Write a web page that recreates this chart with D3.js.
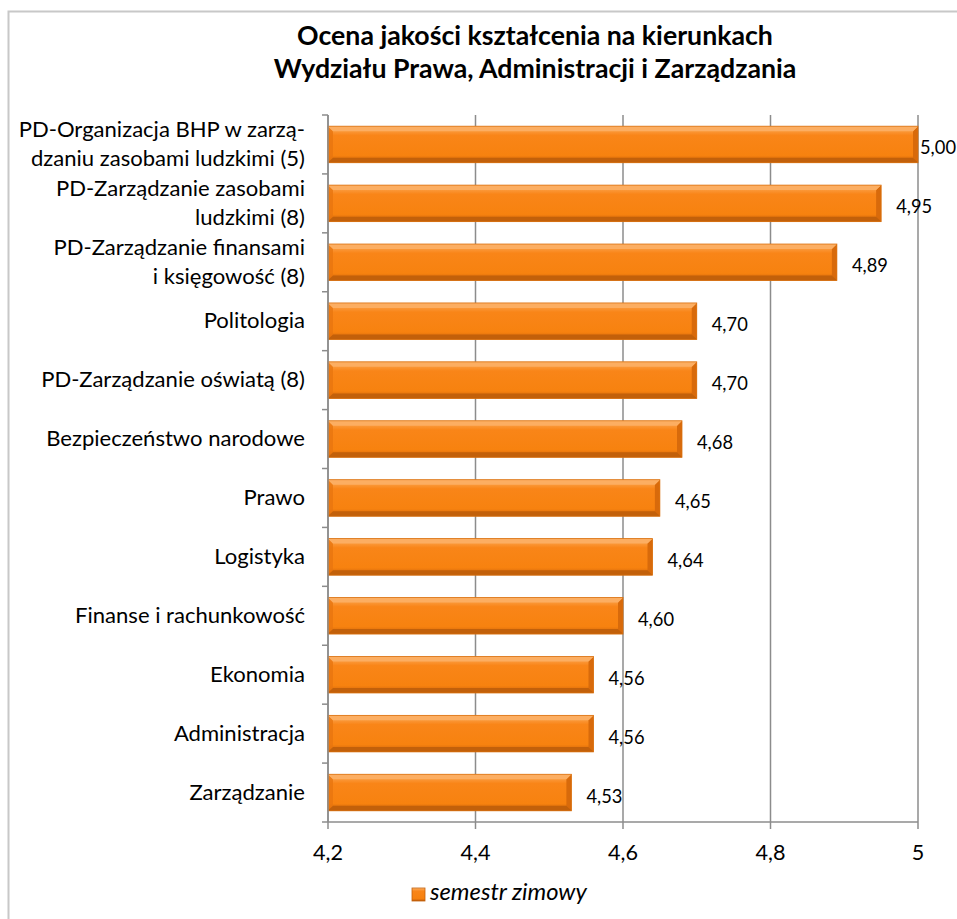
<!DOCTYPE html>
<html><head><meta charset="utf-8">
<script src="https://cdn.jsdelivr.net/npm/d3@7"></script>
<style>
html,body{margin:0;padding:0;background:#fff;}
svg{display:block;}
text{font-family:Lato,"Noto Sans",sans-serif;fill:#000;}
</style></head>
<body>
<svg id="c" width="957" height="919"></svg>
<script>
const titleLines = ["Ocena jakości kształcenia na kierunkach","Wydziału Prawa, Administracji i Zarządzania"];
const categories = [
  ["PD-Organizacja BHP w zarzą-","dzaniu zasobami ludzkimi (5)"],
  ["PD-Zarządzanie zasobami","ludzkimi (8)"],
  ["PD-Zarządzanie finansami","i księgowość (8)"],
  ["Politologia"],
  ["PD-Zarządzanie oświatą (8)"],
  ["Bezpieczeństwo narodowe"],
  ["Prawo"],
  ["Logistyka"],
  ["Finanse i rachunkowość"],
  ["Ekonomia"],
  ["Administracja"],
  ["Zarządzanie"]
];
const values = [5.00,4.95,4.89,4.70,4.70,4.68,4.65,4.64,4.60,4.56,4.56,4.53];
const xTicks = [4.2,4.4,4.6,4.8,5];
const seriesName = "semestr zimowy";

const svg = d3.select("#c");
const W = 957, H = 919;
const plot = {l:328, r:918, t:115, b:822};

function fitSize(sample, target, weight, style){
  const t = svg.append("text").attr("font-size",20).attr("font-weight",weight||"normal")
    .attr("font-style",style||"normal").text(sample);
  const w = t.node().getComputedTextLength();
  t.remove();
  return w>0 ? 20*target/w : 20;
}
const fsTitle = fitSize(titleLines[0], 476, "bold");
const fsCat = fitSize("Finanse i rachunkowość", 230);
const fsVal = fitSize("4,95", 36);
const fsTick = fitSize("4,2", 30);
const fsLeg = fitSize(seriesName, 157, "normal", "italic");

// chart border
svg.append("rect").attr("x",8.5).attr("y",11.5).attr("width",W+20).attr("height",H+20)
  .attr("fill","#fff").attr("stroke","#c8c8c8").attr("stroke-width",2);

// title
svg.append("g").selectAll("text").data(titleLines).join("text")
  .attr("x",535).attr("y",(d,i)=>45+i*33).attr("text-anchor","middle")
  .attr("font-size",fsTitle).attr("font-weight","bold").text(d=>d);

const x = d3.scaleLinear().domain([4.2,5]).range([plot.l,plot.r]);
const idx = d3.range(categories.length);
const y = d3.scaleBand().domain(idx).range([plot.t,plot.b]).paddingInner(0.38).paddingOuter(0.19);

const defs = svg.append("defs");
const g1 = defs.append("linearGradient").attr("id","barg").attr("x1",0).attr("y1",0).attr("x2",0).attr("y2",1);
[[0,"#fdbb78"],[0.12,"#fb9a3c"],[0.25,"#f98518"],[0.8,"#f7820f"],[0.9,"#e0700c"],[1,"#b45809"]]
  .forEach(s=>g1.append("stop").attr("offset",s[0]).attr("stop-color",s[1]));

// gridlines
svg.append("g").selectAll("line").data(xTicks).join("line")
  .attr("x1",d=>x(d)).attr("x2",d=>x(d)).attr("y1",plot.t).attr("y2",plot.b)
  .attr("stroke","#8c8c8c").attr("stroke-width",1.5);

// bars with bevel
const bv = 5;
const bars = svg.append("g").selectAll("g").data(idx).join("g");
bars.append("rect")
  .attr("x",plot.l).attr("y",i=>y(i)).attr("width",i=>x(values[i])-plot.l).attr("height",y.bandwidth())
  .attr("fill","url(#barg)");
bars.append("path").attr("d",i=>{
  const x0=plot.l, y0=y(i), h=y.bandwidth();
  return `M${x0},${y0}L${x0+bv},${y0+bv}L${x0+bv},${y0+h-bv}L${x0},${y0+h}Z`;
}).attr("fill","#e8750f").attr("opacity",0.8);
bars.append("path").attr("d",i=>{
  const x1=x(values[i]), y0=y(i), h=y.bandwidth();
  return `M${x1},${y0}L${x1-bv},${y0+bv}L${x1-bv},${y0+h-bv}L${x1},${y0+h}Z`;
}).attr("fill","#d86a0b");
bars.append("path").attr("d",i=>{
  const x0=plot.l, x1=x(values[i]), y0=y(i);
  return `M${x0},${y0}L${x1},${y0}L${x1-bv},${y0+bv}L${x0+bv},${y0+bv}Z`;
}).attr("fill","#fcae62");
bars.append("path").attr("d",i=>{
  const x0=plot.l, x1=x(values[i]), y1=y(i)+y.bandwidth();
  return `M${x0},${y1}L${x1},${y1}L${x1-bv},${y1-bv}L${x0+bv},${y1-bv}Z`;
}).attr("fill","#c2600a");
bars.append("rect")
  .attr("x",plot.l).attr("y",i=>y(i)).attr("width",i=>x(values[i])-plot.l).attr("height",y.bandwidth())
  .attr("fill","none").attr("stroke","#d9700f").attr("stroke-width",0.8);

// value labels
const fmt = v => d3.format(".2f")(v).replace(".",",");
svg.append("g").selectAll("text").data(idx).join("text")
  .attr("x",i=>Math.min(x(values[i])+15, W-1-fsVal*1.8*0+0-36)).attr("y",i=>y(i)+y.bandwidth()/2+10)
  .attr("font-size",fsVal).text(i=>fmt(values[i]));

// y axis
const yb = d3.scaleLinear().domain([0,categories.length]).range([plot.t,plot.b]);
svg.append("line").attr("x1",plot.l).attr("x2",plot.l).attr("y1",plot.t).attr("y2",plot.b)
  .attr("stroke","#8c8c8c").attr("stroke-width",1.5);
svg.append("g").selectAll("line").data(d3.range(categories.length+1)).join("line")
  .attr("x1",plot.l-6).attr("x2",plot.l).attr("y1",d=>yb(d)).attr("y2",d=>yb(d))
  .attr("stroke","#8c8c8c").attr("stroke-width",1.5);

// category labels
const lh = 29;
const cl = svg.append("g").selectAll("text").data(idx).join("text")
  .attr("text-anchor","end").attr("font-size",fsCat);
cl.each(function(i){
  const lines = categories[i];
  const cy = y(i)+y.bandwidth()/2;
  const t = d3.select(this);
  lines.forEach((s,k)=>{
    t.append("tspan").attr("x",305)
      .attr("y", cy + 7 + (k-(lines.length-1)/2)*lh)
      .text(s);
  });
});

// x axis
svg.append("line").attr("x1",plot.l).attr("x2",plot.r).attr("y1",plot.b).attr("y2",plot.b)
  .attr("stroke","#8c8c8c").attr("stroke-width",1.5);
svg.append("g").selectAll("line").data(xTicks).join("line")
  .attr("x1",d=>x(d)).attr("x2",d=>x(d)).attr("y1",plot.b).attr("y2",plot.b+7)
  .attr("stroke","#8c8c8c").attr("stroke-width",1.5);
svg.append("g").selectAll("text").data(xTicks).join("text")
  .attr("x",d=>x(d)).attr("y",860).attr("text-anchor","middle").attr("font-size",fsTick)
  .text(d=>String(d).replace(".",","));

// legend
const lg = svg.append("g");
lg.append("rect").attr("x",412).attr("y",888).attr("width",13).attr("height",13).attr("fill","url(#barg)")
  .attr("stroke","#c2600a").attr("stroke-width",0.8);
lg.append("text").attr("x",430).attr("y",900).attr("font-size",fsLeg).attr("font-style","italic").text(seriesName);
</script>
</body></html>
